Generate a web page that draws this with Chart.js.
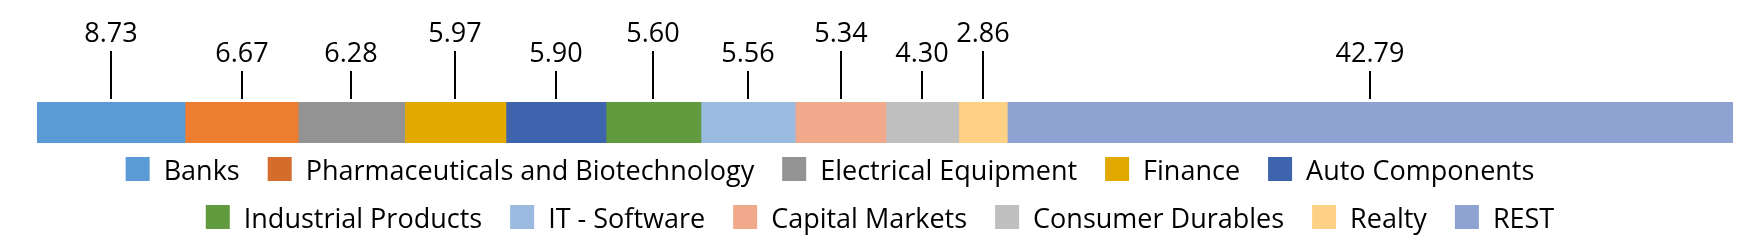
<!DOCTYPE html>
<html>
<head>
<meta charset="utf-8">
<script src="https://cdn.jsdelivr.net/npm/chart.js@4"></script>
<style>
  html, body { margin: 0; padding: 0; background: #ffffff; font-family: "Open Sans", sans-serif; }
  #wrap { position: relative; width: 1758px; height: 250px; }
</style>
</head>
<body>
<div id="wrap"><canvas id="c" width="1758" height="250"></canvas></div>
<script>
// ---- Data ----
const categories = ["Banks", "Pharmaceuticals and Biotechnology", "Electrical Equipment", "Finance", "Auto Components", "Industrial Products", "IT - Software", "Capital Markets", "Consumer Durables", "Realty", "REST"];
const values = [8.73, 6.67, 6.28, 5.97, 5.90, 5.60, 5.56, 5.34, 4.30, 2.86, 42.79];
const valueLabels = ["8.73", "6.67", "6.28", "5.97", "5.90", "5.60", "5.56", "5.34", "4.30", "2.86", "42.79"];
const labelLevels = [0, 1, 1, 0, 1, 0, 1, 0, 1, 0, 1]; // 0 = upper, 1 = lower
const legendRows = [[0, 1, 2, 3, 4], [5, 6, 7, 8, 9, 10]];

// ---- Styles ----
const barColors = ["#5B9BD5", "#ED7D31", "#939393", "#E2AA00", "#3E64AD", "#629B3F", "#9ABAE0", "#F1A98B", "#BFBFBF", "#FFD185", "#8FA3D3"];
const legendColors = ["#5B9BD5", "#D46D2B", "#939393", "#E2AA00", "#3E64AD", "#629B3F", "#9ABAE0", "#F1A98B", "#BFBFBF", "#FFD185", "#8FA3D3"];
const FONT = '27px "Open Sans"';

const labelPlugin = {
  id: 'calloutLabels',
  afterDatasetsDraw(chart) {
    const ctx = chart.ctx;
    ctx.save();
    ctx.font = FONT;
    ctx.fillStyle = '#000';
    ctx.strokeStyle = '#000';
    ctx.lineWidth = 2;
    ctx.textAlign = 'center';
    ctx.textBaseline = 'alphabetic';
    chart.data.datasets.forEach((ds, i) => {
      const el = chart.getDatasetMeta(i).data[0];
      if (!el) return;
      const cx = Math.round((el.x + el.base) / 2);
      const top = el.y - el.height / 2;
      const baseY = labelLevels[i] === 0 ? 42 : 62;
      ctx.fillText(valueLabels[i], cx, baseY);
      ctx.beginPath();
      ctx.moveTo(cx, baseY + 9);
      ctx.lineTo(cx, top - 3);
      ctx.stroke();
    });
    ctx.restore();
  }
};

const legendPlugin = {
  id: 'customLegend',
  afterDraw(chart) {
    const ctx = chart.ctx;
    ctx.save();
    ctx.font = FONT;
    ctx.textBaseline = 'alphabetic';
    ctx.textAlign = 'left';
    const box = 24, boxGap = 14, itemGap = 28;
    const rowCenters = [830, 880];
    const rowBaselines = [180, 228];
    legendRows.forEach((row, r) => {
      const widths = row.map(i => box + boxGap + ctx.measureText(categories[i]).width);
      const total = widths.reduce((a, b) => a + b, 0) + itemGap * (row.length - 1);
      let x = rowCenters[r] - total / 2;
      row.forEach((i, k) => {
        const by = rowBaselines[r] - 23;
        ctx.fillStyle = legendColors[i];
        ctx.fillRect(x, by, box, box);
        ctx.fillStyle = '#000';
        ctx.fillText(categories[i], x + box + boxGap, rowBaselines[r]);
        x += widths[k] + itemGap;
      });
    });
    ctx.restore();
  }
};

function build() {
  new Chart(document.getElementById('c'), {
    type: 'bar',
    data: {
      labels: ['Sector'],
      datasets: categories.map((name, i) => ({
        label: name,
        data: [values[i]],
        backgroundColor: barColors[i],
        borderWidth: 0,
        barPercentage: 1,
        categoryPercentage: 1
      }))
    },
    options: {
      indexAxis: 'y',
      responsive: false,
      animation: false,
      layout: { padding: { left: 37, right: 25, top: 102, bottom: 107 } },
      scales: {
        x: { stacked: true, display: false, min: 0, max: 100 },
        y: { stacked: true, display: false }
      },
      plugins: { legend: { display: false }, tooltip: { enabled: false } }
    },
    plugins: [labelPlugin, legendPlugin]
  });
}

if (document.fonts && document.fonts.load) {
  document.fonts.load(FONT).then(build, build);
} else {
  build();
}
</script>
</body>
</html>
